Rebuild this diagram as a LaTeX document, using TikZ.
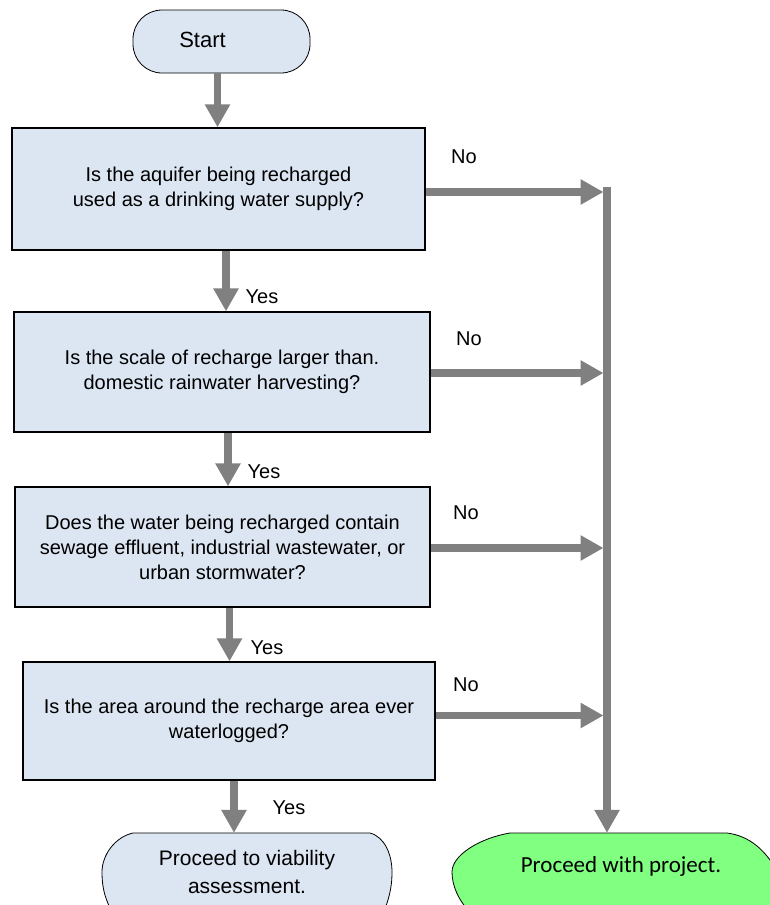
\documentclass[tikz,border=0pt]{standalone}
\usepackage{fontspec}
\setmainfont{Liberation Sans}
\newfontfamily\calfont{Carlito}
\usetikzlibrary{arrows.meta}
\definecolor{boxblue}{HTML}{DCE6F2}
\definecolor{arrgray}{HTML}{808080}
\definecolor{termgreen}{HTML}{80FF80}
\begin{document}
\begin{tikzpicture}[x=1pt,y=-1pt,
  qbox/.style={draw=black, line width=1.3pt, fill=boxblue, rectangle, inner sep=0pt,
    align=center, font=\fontsize{20}{25}\selectfont},
  startbox/.style={draw=black, line width=0.8pt, fill=boxblue, rectangle, rounded corners=29pt,
    inner sep=0pt, minimum width=177pt, minimum height=63pt, font=\fontsize{22}{26}\selectfont},
  arr/.style={draw=arrgray, line width=7.5pt, -{Triangle[length=23pt,width=24pt]}},
  lbl/.style={inner sep=0pt, font=\fontsize{20}{24}\selectfont}
]
\useasboundingbox (0,0) rectangle (770,905);
\fill[white] (0,0) rectangle (770,905);

% bottom terminal shapes (clipped by page edge)
\begin{scope}
  \clip (0,0) rectangle (770,905);
  \draw[line width=0.8pt, fill=boxblue]
    (133,833) -- (370,833) .. controls (385,837) and (392,855) .. (392,872)
    .. controls (392,890) and (388,900) .. (384,912) -- (112,912)
    .. controls (106,900) and (102,890) .. (102,872)
    .. controls (102,855) and (115,837) .. (133,833) -- cycle;
  \draw[line width=0.8pt, fill=termgreen]
    (510,833) -- (727,833) .. controls (750,836) and (765,850) .. (778,872)
    -- (778,912) -- (470,912)
    .. controls (458,900) and (452,885) .. (452,872)
    .. controls (452,855) and (480,838) .. (510,833) -- cycle;
\end{scope}

\node[startbox] (start) at (221.5,41.5) {\hspace*{-38pt}\raisebox{4pt}{Start}};

\node[qbox, minimum width=413pt, minimum height=122pt] (b1) at (218.5,189)
  {Is the aquifer being recharged\\used as a drinking water supply?};
\node[qbox, minimum width=416pt, minimum height=120pt] (b2) at (222,372)
  {Is the scale of recharge larger than.\\domestic rainwater harvesting?};
\node[qbox, minimum width=415pt, minimum height=120pt] (b3) at (222.5,547)
  {Does the water being recharged contain\\sewage effluent, industrial wastewater, or\\urban stormwater?};
\node[qbox, minimum width=412pt, minimum height=118pt] (b4) at (229,721)
  {Is the area around the recharge area ever\\waterlogged?};

\node[inner sep=0pt, minimum width=290pt, minimum height=78pt, align=center,
  font=\fontsize{21}{28}\selectfont] (v) at (247,872)
  {Proceed to viability\\assessment.};
\node[inner sep=0pt, minimum width=318pt, minimum height=66pt,
  font=\calfont\fontsize{23}{27}\selectfont] (g) at (621,866)
  {Proceed with project.};

% vertical arrows (Yes path)
\draw[arr] ([xshift=-4pt]start.south) -- ([xshift=-4pt]start.south |- b1.north);
\draw[arr] ([xshift=7.5pt]b1.south) -- ([xshift=7.5pt]b1.south |- b2.north);
\draw[arr] ([xshift=6pt]b2.south) -- ([xshift=6pt]b2.south |- b3.north);
\draw[arr] ([xshift=7pt]b3.south) -- ([xshift=7pt]b3.south |- b4.north);
\draw[arr] ([xshift=5pt]b4.south) -- ([xshift=5pt]b4.south |- v.north);

% right-hand collector line
\coordinate (vtop) at (607,187);
\coordinate (tip) at (603.5,0);
\draw[arr] (vtop) -- (vtop |- g.north);

% No arrows
\draw[arr] ([yshift=-3pt]b1.east) -- ([yshift=-3pt]b1.east -| tip);
\draw[arr] ([yshift=-1pt]b2.east) -- ([yshift=-1pt]b2.east -| tip);
\draw[arr] ([yshift=-1pt]b3.east) -- ([yshift=-1pt]b3.east -| tip);
\draw[arr] ([yshift=5.5pt]b4.east) -- ([yshift=5.5pt]b4.east -| tip);

% labels
\node[lbl] (y1) at (262,297) {Yes};
\node[lbl] (y2) at (264,472) {Yes};
\node[lbl] (y3) at (267,648) {Yes};
\node[lbl] (y4) at (289,808) {Yes};
\node[lbl] (n1) at (464,157) {No};
\node[lbl] (n2) at (469,339) {No};
\node[lbl] (n3) at (466,513) {No};
\node[lbl] (n4) at (466,685) {No};
\end{tikzpicture}
\end{document}
